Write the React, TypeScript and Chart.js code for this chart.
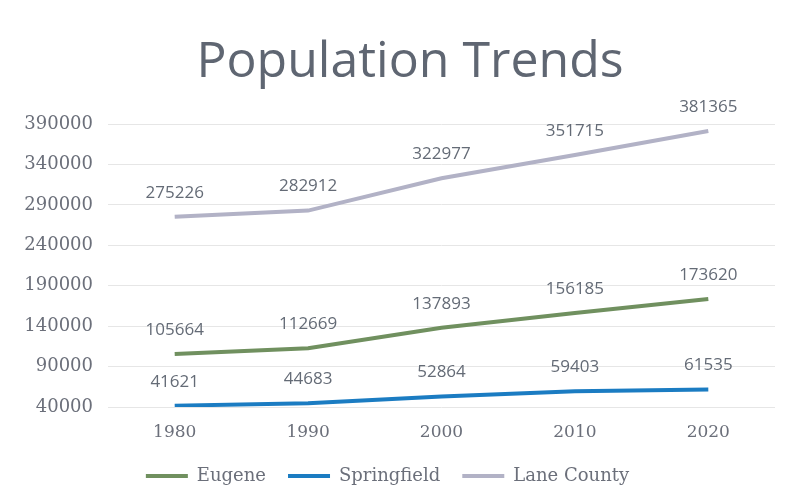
import React, { useEffect, useRef } from "react";
import { Chart, registerables } from "chart.js";

Chart.register(...registerables);

const years = ["1980", "1990", "2000", "2010", "2020"];
const eugene = [105664, 112669, 137893, 156185, 173620];
const springfield = [41621, 44683, 52864, 59403, 61535];
const laneCounty = [275226, 282912, 322977, 351715, 381365];
const seriesNames = ["Eugene", "Springfield", "Lane County"];
const seriesColors = ["#70905f", "#1b7cc2", "#b2b2c6"];
const titleText = "Population Trends";

const titlePlugin = {
  id: "customTitle",
  afterDraw(chart: any) {
    const ctx = chart.ctx;
    ctx.save();
    ctx.font = "50px 'Open Sans'";
    ctx.fillStyle = "#5f6672";
    ctx.textAlign = "center";
    ctx.textBaseline = "alphabetic";
    ctx.fillText(titleText, 410, 77);
    ctx.restore();
  },
};

const dataLabels = {
  id: "dataLabels",
  afterDatasetsDraw(chart: any) {
    const ctx = chart.ctx;
    ctx.save();
    ctx.font = "17px 'Open Sans'";
    ctx.fillStyle = "#646b76";
    ctx.textAlign = "center";
    ctx.textBaseline = "middle";
    chart.data.datasets.forEach((ds: any, i: number) => {
      const meta = chart.getDatasetMeta(i);
      meta.data.forEach((pt: any, j: number) => {
        ctx.fillText(String(ds.data[j]), pt.x, pt.y - 24);
      });
    });
    ctx.restore();
  },
};

export default function App() {
  const ref = useRef<HTMLCanvasElement>(null);
  useEffect(() => {
    document.body.style.margin = "0";
    const chart = new Chart(ref.current!, {
      type: "line",
      data: {
        labels: years,
        datasets: [eugene, springfield, laneCounty].map((d, i) => ({
          label: seriesNames[i],
          data: d,
          borderColor: seriesColors[i],
          backgroundColor: seriesColors[i],
          borderWidth: 4,
          pointRadius: 0,
          tension: 0,
        })),
      },
      options: {
        responsive: false,
        animation: false,
        layout: { padding: { left: 0, right: 14, top: 124, bottom: 7 } },
        plugins: {
          title: { display: false },
          legend: {
            position: "bottom",
            labels: {
              usePointStyle: true,
              pointStyle: "line",
              pointStyleWidth: 42,
              color: "#6b6f7a",
              font: { family: "'DejaVu Serif'", size: 18 },
              padding: 22,
            },
          },
          tooltip: { enabled: false },
        },
        scales: {
          x: {
            offset: true,
            grid: { display: false },
            border: { display: false },
            ticks: {
              color: "#6b6f7a",
              font: { family: "'DejaVu Serif'", size: 17 },
              padding: 7,
            },
            afterFit(scale: any) {
              scale.height = 38;
            },
          },
          y: {
            min: 40000,
            max: 390000,
            grid: { color: "#e6e6e6", drawTicks: false },
            border: { display: false },
            ticks: {
              stepSize: 50000,
              color: "#6b6f7a",
              font: { family: "'DejaVu Serif'", size: 18 },
              padding: 15,
              callback: (v: any) => String(v),
            },
            afterFit(scale: any) {
              scale.width = 108;
            },
          },
        },
      },
      plugins: [dataLabels, titlePlugin],
    });
    return () => chart.destroy();
  }, []);
  return <canvas ref={ref} width={789} height={502} style={{ display: "block" }} />;
}
